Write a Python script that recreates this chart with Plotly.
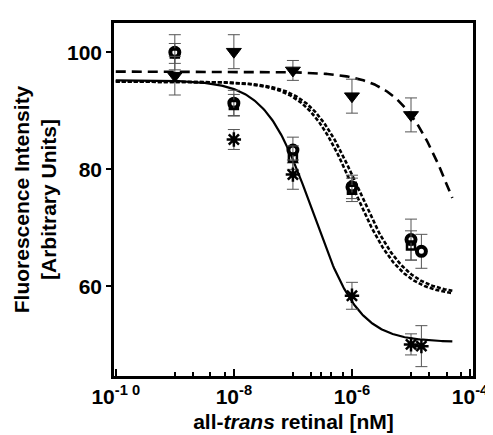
import numpy as np
import plotly.graph_objects as go

# ---- data ----
ast_x = [1e-8, 1e-7, 1e-6, 1e-5, 1.5e-5]
ast_y = [85.1, 79.1, 58.4, 50.1, 49.8]
ast_e = [1.7, 2.5, 2.3, 1.8, 3.5]

tri_x = [1e-9, 1e-8, 1e-7, 1e-6, 1e-5]
tri_y = [96.0, 100.1, 96.9, 92.5, 89.3]
tri_e = [3.3, 2.9, 1.7, 2.9, 2.9]

flw_x = [1e-9, 1e-8, 1e-7, 1e-6, 1e-5, 1.5e-5]
flw_y = [100.0, 91.3, 83.3, 77.0, 68.0, 66.0]
flw_e = [3.0, 2.2, 2.2, 2.0, 3.5, 2.9]

sq_x = [1e-9, 1e-8, 1e-7, 1e-6, 1e-5]
sq_y = [99.8, 91.0, 82.0, 76.5, 67.0]
sq_e = [1.7, 1.8, 2.0, 2.0, 2.5]

# Hill-fit parameters for the model curves: top, bottom, log10 IC50, slope
fit_solid = [95.2, 50.5, -6.67, 1.1]
fit_long = [96.7, 50.0, -4.23, 0.94]
fit_dot1 = [95.0, 58.3, -5.97, 1.08]
fit_dot2 = [95.0, 58.6, -5.90, 1.08]
curve_logx = np.linspace(-10, -4.3, 300)

x_tickvals = [1e-10, 1e-8, 1e-6, 1e-4]
x_ticktext = ["<b>10<sup>-1 0</sup></b>", "<b>10<sup>-8</sup></b>",
              "<b>10<sup>-6</sup></b>", "<b>10<sup>-4</sup></b>"]
x_minor = [1e-9, 2e-9, 4e-9, 7e-9, 1e-7, 2e-7, 3e-7, 4.5e-7, 7e-7, 1e-5, 2e-5, 4e-5, 7e-5]
y_tickvals = [60, 80, 100]
y_ticktext = ["<b>60</b>", "<b>80</b>", "<b>100</b>"]


def hill(p):
    top, bot, lic, n = p
    x = 10 ** curve_logx
    return x, bot + (top - bot) / (1 + 10 ** (n * (curve_logx - lic)))


fig = go.Figure()

for p, dash, w in [(fit_solid, "solid", 2.2), (fit_long, "10px,6px", 2.6),
                   (fit_dot1, "4px,2px", 2.6), (fit_dot2, "4px,2px", 2.6)]:
    cx, cy = hill(p)
    fig.add_trace(go.Scatter(x=cx, y=cy, mode="lines",
                             line=dict(color="black", width=w, dash=dash),
                             hoverinfo="skip"))

err_style = dict(type="data", color="#555555", thickness=1, width=6)

fig.add_trace(go.Scatter(x=flw_x, y=flw_y, mode="markers",
                         error_y=dict(array=flw_e, **err_style),
                         marker=dict(symbol="circle", size=9, color="white",
                                     line=dict(color="black", width=4))))
fig.add_trace(go.Scatter(x=sq_x, y=sq_y, mode="markers",
                         error_y=dict(array=sq_e, **err_style),
                         marker=dict(symbol="square-open", size=8, color="black",
                                     line=dict(color="black", width=2.5))))
fig.add_trace(go.Scatter(x=tri_x, y=tri_y, mode="markers",
                         error_y=dict(array=tri_e, **err_style),
                         marker=dict(symbol="triangle-down", size=13, color="black",
                                     line=dict(color="black", width=1))))
fig.add_trace(go.Scatter(x=ast_x, y=ast_y, mode="markers",
                         error_y=dict(array=ast_e, **err_style),
                         marker=dict(symbol="asterisk-open", size=12, color="black",
                                     line=dict(color="black", width=2.5))))

font_fam = "Liberation Sans, Arial, sans-serif"
fig.update_layout(
    width=493, height=435,
    margin=dict(l=106, r=22, t=13, b=60),
    paper_bgcolor="white", plot_bgcolor="white",
    showlegend=False,
    font=dict(family=font_fam, color="black"),
)
fig.update_xaxes(
    type="log", range=[-10.03, -3.95],
    tickvals=x_tickvals, ticktext=x_ticktext,
    ticks="inside", ticklen=7, tickwidth=2, tickcolor="black",
    minor=dict(tickvals=x_minor, ticks="inside", ticklen=4, tickwidth=1.5, tickcolor="black"),
    showline=True, linewidth=2.5, linecolor="black", mirror=True,
    showgrid=False, zeroline=False,
    tickfont=dict(size=21, family=font_fam),
    title=dict(text="<b>all-<i>trans</i> retinal [nM]</b>", standoff=8,
               font=dict(size=21, family=font_fam)),
)
fig.update_yaxes(
    range=[44.7, 105],
    tickvals=y_tickvals, ticktext=y_ticktext,
    ticks="outside", ticklen=5, tickwidth=2, tickcolor="black",
    showline=True, linewidth=2.5, linecolor="black", mirror=True,
    showgrid=False, zeroline=False,
    tickfont=dict(size=21, family=font_fam),
    title=dict(text="<b>Fluorescence Intensity<br>[Arbitrary Units]</b>", standoff=5,
               font=dict(size=21, family=font_fam)),
)

fig.write_html("out.html")
